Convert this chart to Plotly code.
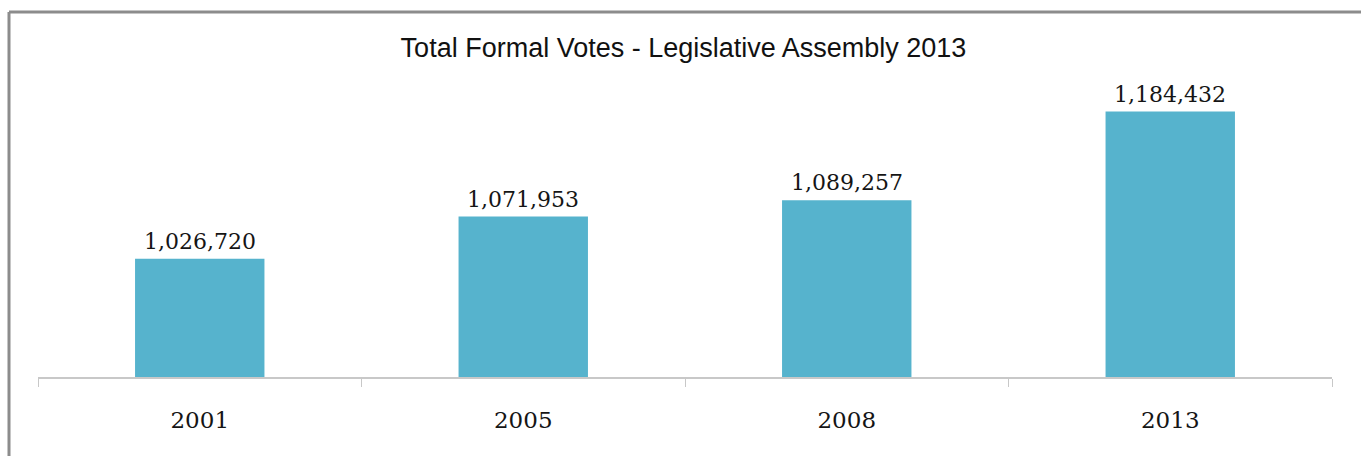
import plotly.graph_objects as go

years = ["2001", "2005", "2008", "2013"]
votes = [1026720, 1071953, 1089257, 1184432]
labels = [f"{v:,}" for v in votes]
title_text = "Total Formal Votes - Legislative Assembly 2013"

W, H = 1367, 456
L, R, T, B = 38, 35, 97, 79
pw, ph = W - L - R, H - T - B

fig = go.Figure()
fig.add_trace(go.Bar(
    x=years, y=votes, width=0.4,
    marker=dict(color="#56B3CD", line=dict(width=0)),
    hoverinfo="skip",
))
# category axes place annotations by category index
for i, (v, t) in enumerate(zip(votes, labels)):
    fig.add_annotation(x=i, y=v, text=t, showarrow=False, yanchor="bottom",
                       yshift=3, font=dict(family="DejaVu Serif", size=22, color="#151515"))

bx0, bx1 = (9 - L) / pw, (1361 - L) / pw
by_top, by_bot = 1 + (T - 12) / ph, -0.5
fig.update_layout(
    width=W, height=H,
    margin=dict(l=L, r=R, t=T, b=B),
    paper_bgcolor="white", plot_bgcolor="white",
    showlegend=False,
    title=dict(text=title_text, x=0.5, xanchor="center", y=1 - 48 / H, yanchor="middle",
               font=dict(family="Liberation Sans", size=27, color="#111111")),
    xaxis=dict(type="category", showline=True, linecolor="#C8C8C8", linewidth=1.5,
               ticks="outside", ticklen=8, tickcolor="#C8C8C8", tickson="boundaries",
               tickfont=dict(family="DejaVu Serif", size=23, color="#151515"),
               ticklabelstandoff=22, showgrid=False, automargin=False, tickangle=0),
    yaxis=dict(range=[900000, 1200000], visible=False, showgrid=False),
    shapes=[
        dict(type="line", xref="paper", yref="paper", x0=bx0, x1=bx1, y0=by_top, y1=by_top,
             line=dict(color="#8C8C8C", width=3), layer="below"),
        dict(type="line", xref="paper", yref="paper", x0=bx0, x1=bx0, y0=by_bot, y1=by_top,
             line=dict(color="#8C8C8C", width=3), layer="below"),
    ],
)
fig.write_html("out.html", config={"displayModeBar": False},
               post_script="document.body.style.margin='0';document.body.style.overflow='hidden';")
